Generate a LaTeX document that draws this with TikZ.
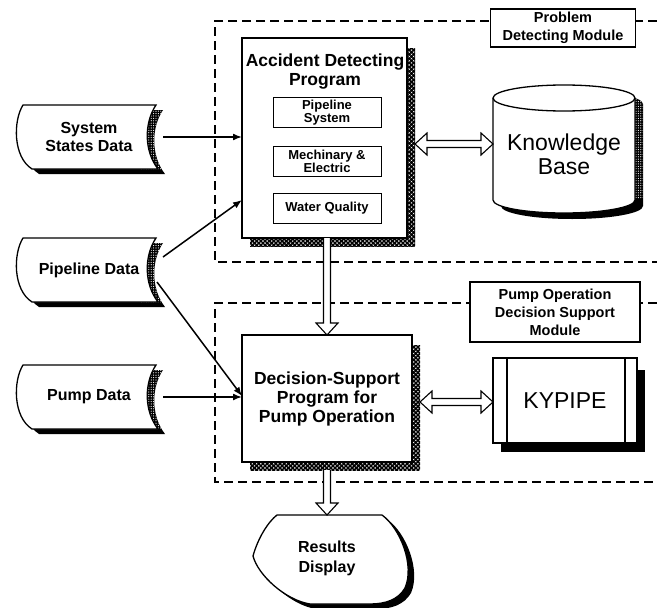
\documentclass[tikz,border=0pt]{standalone}
\usepackage{fontspec}
\setmainfont{Liberation Sans}
\usetikzlibrary{calc,arrows.meta,patterns.meta}
\pgfdeclarelayer{background}
\pgfsetlayers{background,main}

\tikzset{
  every node/.style={inner sep=0pt, outer sep=0pt},
  boxline/.style={draw=black, line width=1.3pt},
  mainbox/.style={boxline, fill=white, rectangle},
  subbox/.style={boxline, line width=1pt, fill=white, minimum width=108pt,
    minimum height=30pt, align=center, font=\fontsize{13}{13}\selectfont\bfseries},
  datatext/.style={minimum width=148pt, minimum height=64pt, align=center,
    font=\fontsize{16}{18}\selectfont\bfseries},
  modlabel/.style={boxline, fill=white, align=center,
    font=\fontsize{14.5}{18}\selectfont\bfseries},
  bigtext/.style={align=center, font=\fontsize{17.5}{19}\selectfont\bfseries},
  frame/.style={line width=2.3pt, dash pattern=on 9pt off 5pt},
  conn/.style={line width=1.5pt, -{Latex[length=9pt,width=7pt]}},
  blockarrow/.style={line width=1.1pt, fill=white, line join=miter},
  hatchshadow/.style={pattern={Hatch[angle=45,distance=3pt,line width=1.6pt]}},
  dotshadow/.style={pattern={Dots[radius=0.5pt,distance=2pt]}, pattern color=black!45},
  speckle/.style={pattern={Dots[radius=0.6pt,distance=2.4pt]}, pattern color=white},
}

% outline of a stored-data symbol around a node
\newcommand\tapepath[1]{($(#1.north west)+(8,0)$) -- ($(#1.north east)+(-7,0)$)
  .. controls ($(#1.north east)+(-19,18)$) and ($(#1.south east)+(-19,-18)$) .. ($(#1.south east)+(-5,0)$)
  -- ($(#1.south west)+(17,0)$)
  .. controls ($(#1.south west)+(-2,-12)$) and ($(#1.north west)+(-2,16)$) .. ($(#1.north west)+(8,0)$) -- cycle}

\newcommand\tapeshape[1]{%
  \begin{scope}[transform canvas={shift={(7pt,-5pt)}}]
    \fill[black] \tapepath{#1};
  \end{scope}
  \begin{scope}
    \clip ([xshift=-22pt]#1.north east) rectangle ([xshift=12pt]#1.south east);
    \begin{scope}[transform canvas={shift={(7pt,-5pt)}}]
      \fill[speckle] \tapepath{#1};
    \end{scope}
  \end{scope}
  \filldraw[fill=white, line width=1.3pt] \tapepath{#1};
}

% cylinder body of the knowledge base
\newcommand\kbbody{(kb.north west) -- (kb.south west)
  arc[start angle=180, end angle=360, x radius=71pt, y radius=13pt]
  -- (kb.north east) arc[start angle=0, end angle=180, x radius=71pt, y radius=13pt] -- cycle}

% outline of the display symbol
\newcommand\respath{(-50,-43) -- (55,-43)
  .. controls (73,-30) and (88,7) .. (78,30)
  .. controls (71,42) and (58,46) .. (43,46) -- (-17,46)
  .. controls (-42,42) and (-69,17) .. (-74,-2)
  .. controls (-69,-20) and (-59,-36) .. (-50,-43) -- cycle}

% hollow arrows: two-headed horizontal, single-headed downward
\newcommand\hblockarrow[2]{%
  \draw[blockarrow] (#1) -- ++(12,-11) -- ++(0,7.5) -- ($(#2)+(-12,-3.5)$) -- ++(0,-7.5)
    -- (#2) -- ++(-12,11) -- ++(0,-7.5) -- ($(#1)+(12,3.5)$) -- ++(0,7.5) -- cycle;}
\newcommand\vblockarrow[2]{%
  \fill[white] ($(#1)+(-3.5,0)$) -- ($(#2)+(-3.5,-12)$) -- ($(#2)+(3.5,-12)$) -- ($(#1)+(3.5,0)$) -- cycle;
  \draw[blockarrow] ($(#1)+(-3.5,0)$) -- ($(#2)+(-3.5,-12)$) -- ++(-7.5,0) -- (#2)
    -- ++(11,-12) -- ++(-7.5,0) -- ($(#1)+(3.5,0)$);}

\begin{document}
\begin{tikzpicture}[x=1pt, y=-1pt]
\useasboundingbox (0,0) rectangle (657,608);

% input data
\node[datatext] (ssd) at (89,137) {System\\States Data};
\node[datatext] (pld) at (89,270) {Pipeline Data};
\node[datatext] (pmd) at (89,397) {Pump Data};

% problem detecting module
\node[mainbox, minimum width=165pt, minimum height=200pt] (acc) at (324.5,138) {};
\node[bigtext] (acct) at (325,72) {Accident Detecting\\Program};
\node[subbox] (psys) at (327,112.5) {Pipeline\\System};
\node[subbox] (mech) at (327,161) {Mechinary \&\\Electric};
\node[subbox] (wq) at (327,208) {Water Quality};
\node[minimum width=142pt, minimum height=102pt] (kb) at (564,149) {};
\node[align=center, font=\fontsize{23}{24}\selectfont] (kbt) at (564,154) {Knowledge\\Base};
\node[modlabel, minimum width=145pt, minimum height=38pt] (pdm) at (563,28) {Problem\\Detecting Module};

% pump operation decision support module
\node[mainbox, bigtext, minimum width=170pt, minimum height=127pt] (dsp) at (327,398.5)
  {Decision-Support\\Program for\\Pump Operation};
\node[mainbox, minimum width=144pt, minimum height=85pt,
      font=\fontsize{23}{26}\selectfont] (kyp) at (565,400.5) {KYPIPE};
\draw[boxline] ([xshift=14pt]kyp.north west) -- ([xshift=14pt]kyp.south west);
\draw[boxline] ([xshift=-12pt]kyp.north east) -- ([xshift=-12pt]kyp.south east);
\node[modlabel, minimum width=170pt, minimum height=60pt] (pom) at (555,312)
  {Pump Operation\\Decision Support\\Module};

% output
\node[minimum width=150pt, minimum height=86pt, align=center,
      font=\fontsize{16}{20}\selectfont\bfseries] (res) at (327,558) {Results\\Display};

\begin{pgfonlayer}{background}
  % module frames
  \draw[frame] (657,21) -- (215,21) -- (215,262) -- (657,262);
  \draw[frame] (657,303) -- (215,303) -- (215,482) -- (657,482);
  % shadows
  \fill[hatchshadow] ([xshift=8pt,yshift=-10pt]acc.north west) rectangle ([xshift=8pt,yshift=-8pt]acc.south east);
  \fill[hatchshadow] ([xshift=8pt,yshift=-10pt]dsp.north west) rectangle ([xshift=8pt,yshift=-8pt]dsp.south east);
  \fill[black] ([xshift=8pt,yshift=-12pt]kyp.north west) rectangle ([xshift=8pt,yshift=-9pt]kyp.south east);
  \foreach \b in {psys,mech,wq}
    \fill[dotshadow] ([xshift=4pt,yshift=-6pt]\b.north west) rectangle ([xshift=5pt,yshift=-8pt]\b.south east);
  % stored data symbols
  \tapeshape{ssd}
  \tapeshape{pld}
  \tapeshape{pmd}
  % knowledge base cylinder
  \begin{scope}[transform canvas={shift={(8pt,-6pt)}}]
    \fill[black] \kbbody;
  \end{scope}
  \begin{scope}
    \clip ([xshift=-4pt]kb.north east) rectangle ([xshift=12pt,yshift=2pt]kb.south east);
    \begin{scope}[transform canvas={shift={(8pt,-6pt)}}]
      \fill[speckle] \kbbody;
    \end{scope}
  \end{scope}
  \filldraw[fill=white, line width=1.3pt] \kbbody;
  \draw[line width=1.3pt] (kb.north east) arc[start angle=0, end angle=-180, x radius=71pt, y radius=13pt];
  % display symbol
  \begin{scope}[shift={(res.center)}]
    \fill[black, shift={(6,5)}] \respath;
    \filldraw[fill=white, line width=1.3pt] \respath;
  \end{scope}
\end{pgfonlayer}

% data flows
\draw[conn] (ssd.east) -- (ssd.east -| acc.west);
\draw[conn] ([yshift=13pt]pld.east) -- ([yshift=-62pt]acc.west);
\draw[conn] ([xshift=-6pt,yshift=-12pt]pld.east) -- ([yshift=2.5pt]dsp.west);
\draw[conn] (pmd.east) -- (pmd.east -| dsp.west);

% program links
\coordinate (kbport) at ([yshift=5pt]kb.west);
\path (acc.east |- kbport) ++(8,0) coordinate (accport);
\hblockarrow{accport}{kbport}
\coordinate (kyport) at ([yshift=-1.5pt]kyp.west);
\path (dsp.east |- kyport) ++(8,0) coordinate (dsport);
\hblockarrow{dsport}{kyport}
\path (acc.south -| dsp.north) coordinate (accbot);
\vblockarrow{accbot}{dsp.north}
\path (dsp.south) ++(0,8) coordinate (dspbot);
\vblockarrow{dspbot}{res.north}
\end{tikzpicture}
\end{document}
